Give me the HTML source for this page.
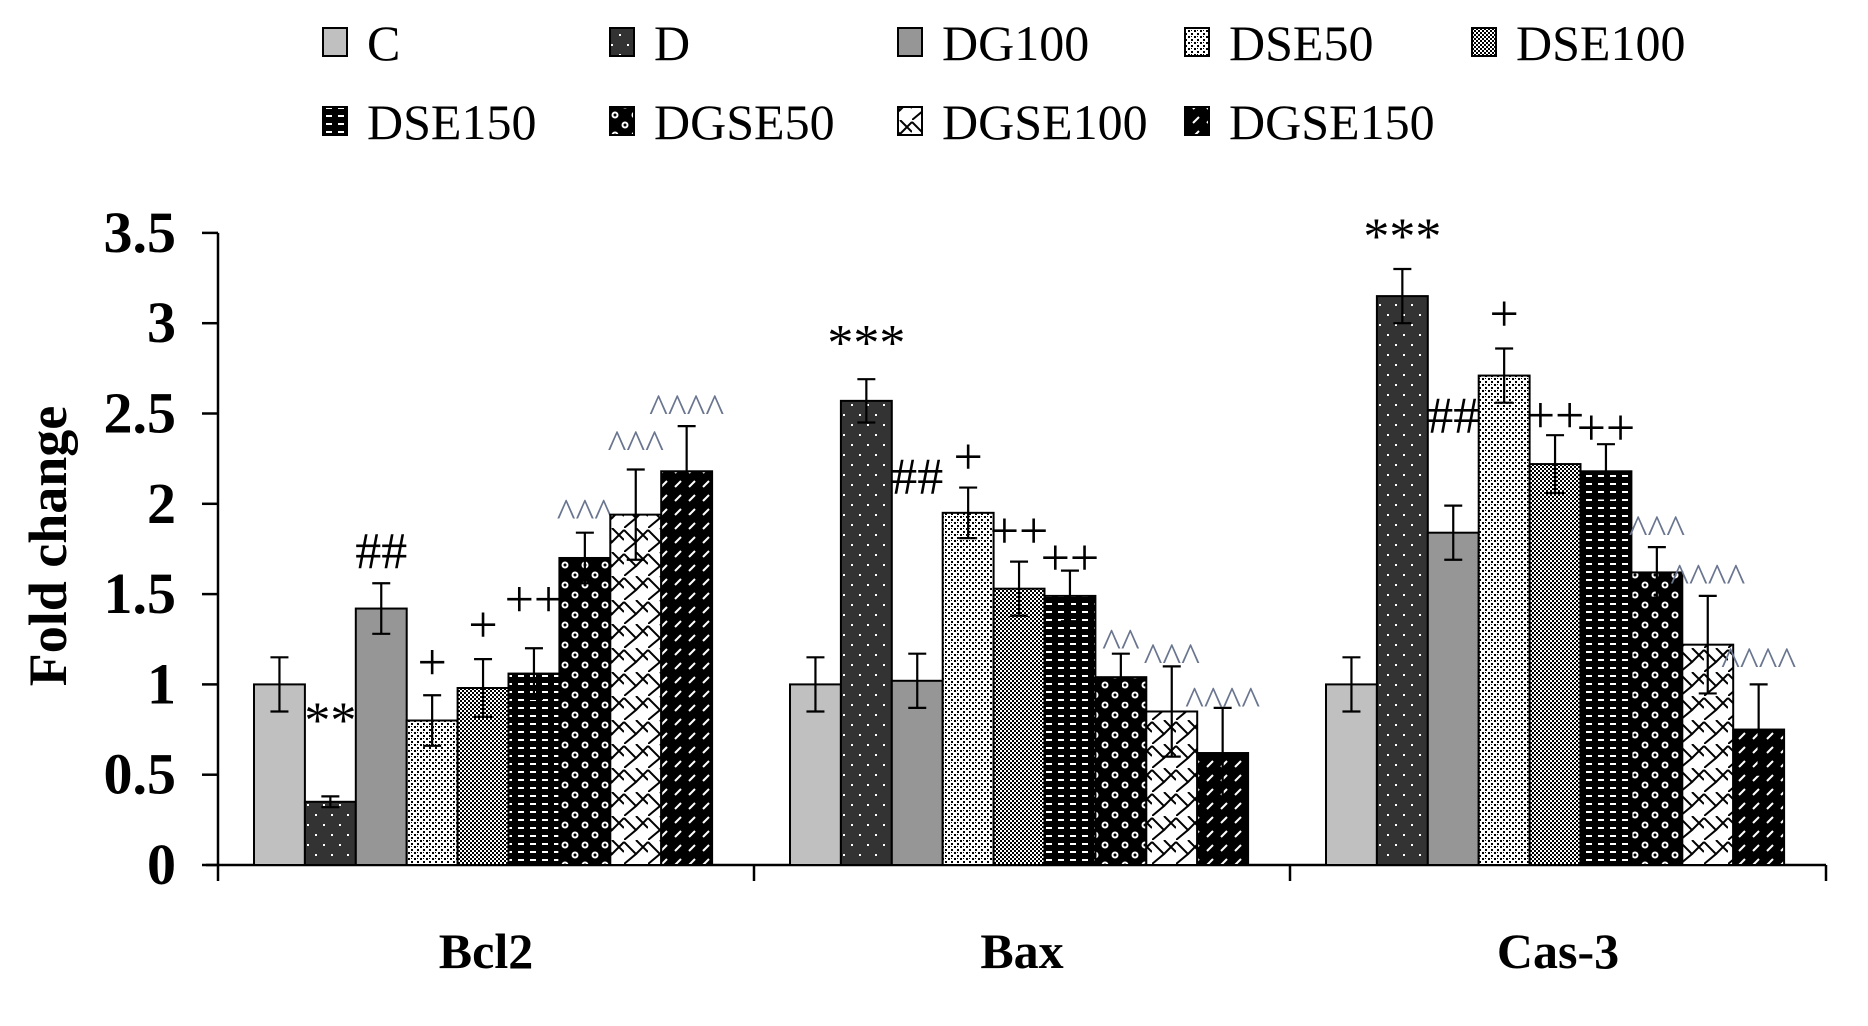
<!DOCTYPE html>
<html><head><meta charset="utf-8">
<style>
html,body{margin:0;padding:0;background:#fff;}
svg{display:block;}
text{font-family:"Liberation Serif",serif;}
</style></head>
<body>
<svg id="chart" width="1868" height="1026" viewBox="0 0 1868 1026" xmlns="http://www.w3.org/2000/svg">
<defs>
 <pattern id="p0" width="8" height="8" patternUnits="userSpaceOnUse"><rect width="8" height="8" fill="#c0c0c0"/></pattern>
 <pattern id="p1" width="16" height="20" patternUnits="userSpaceOnUse"><rect width="16" height="20" fill="#333"/><rect x="3" y="4" width="2" height="2" fill="#fff"/><rect x="11" y="14" width="2" height="2" fill="#fff"/></pattern>
 <pattern id="p2" width="8" height="8" patternUnits="userSpaceOnUse"><rect width="8" height="8" fill="#969696"/></pattern>
 <pattern id="p3" width="6" height="6" patternUnits="userSpaceOnUse"><rect width="6" height="6" fill="#fff"/><rect x="0" y="0" width="2" height="2" fill="#000"/><rect x="3" y="3" width="2" height="2" fill="#000"/><rect x="3" y="0" width="1" height="1" fill="#000"/></pattern>
 <pattern id="p4" width="4" height="4" patternUnits="userSpaceOnUse"><rect width="4" height="4" fill="#fff"/><rect x="0" y="0" width="2" height="2" fill="#000"/><rect x="2" y="2" width="2" height="2" fill="#000"/><rect x="1" y="1" width="1" height="1" fill="#000"/></pattern>
 <pattern id="p5" width="12" height="8" patternUnits="userSpaceOnUse"><rect width="12" height="8" fill="#000"/><rect x="2" y="3" width="6" height="2" fill="#fff"/></pattern>
 <pattern id="p6" width="20" height="20" patternUnits="userSpaceOnUse"><rect width="20" height="20" fill="#000"/><circle cx="5" cy="5" r="3.5" fill="#fff"/><circle cx="15" cy="15" r="3.5" fill="#fff"/><circle cx="5" cy="5" r="1.5" fill="#000"/><circle cx="15" cy="15" r="1.5" fill="#000"/></pattern>
 <pattern id="p7" width="24" height="24" patternUnits="userSpaceOnUse"><rect width="24" height="24" fill="#fff"/><path d="M0 2 L12 14 L0 24 M24 2 L12 14 M12 0 L24 12" stroke="#000" stroke-width="2" fill="none"/></pattern>
 <pattern id="p8" width="14" height="14" patternUnits="userSpaceOnUse"><rect width="14" height="14" fill="#000"/><path d="M3 11 L9 5" stroke="#fff" stroke-width="2"/></pattern>
</defs>
<g id="plot"></g>
</svg>
<script>
const categories = ["Bcl2","Bax","Cas-3"];
const seriesNames = ["C","D","DG100","DSE50","DSE100","DSE150","DGSE50","DGSE100","DGSE150"];
const bcl2Values = [1.0,0.35,1.42,0.80,0.98,1.06,1.70,1.94,2.18];
const baxValues = [1.0,2.57,1.02,1.95,1.53,1.49,1.04,0.85,0.62];
const cas3Values = [1.0,3.15,1.84,2.71,2.22,2.18,1.62,1.22,0.75];
const bcl2Errors = [0.15,0.03,0.14,0.14,0.16,0.14,0.14,0.25,0.25];
const baxErrors = [0.15,0.12,0.15,0.14,0.15,0.14,0.13,0.25,0.25];
const cas3Errors = [0.15,0.15,0.15,0.15,0.16,0.15,0.14,0.27,0.25];
const bcl2Marks = ["","**","##","+","+","++","^^^","^^^","^^^^"];
const baxMarks = ["","***","##","+","++","++","^^","^^^","^^^^"];
const cas3Marks = ["","***","##","+","++","++","^^^","^^^^","^^^^"];
const bcl2MarkY = [0,0.80,1.74,1.12,1.33,1.47,2.02,2.40,2.60];
const baxMarkY = [0,2.89,2.15,2.26,1.85,1.70,1.30,1.22,0.98];
const cas3MarkY = [0,3.48,2.49,3.05,2.49,2.42,1.93,1.66,1.20];
const yTicks = [0,0.5,1,1.5,2,2.5,3,3.5];
const yTickLabels = ["0","0.5","1","1.5","2","2.5","3","3.5"];

const NS="http://www.w3.org/2000/svg";
const g=document.getElementById('plot');
function mk(tag,attrs,parent){const e=document.createElementNS(NS,tag);for(const k in attrs)e.setAttribute(k,attrs[k]);(parent||g).appendChild(e);return e;}
const X0=218, X1=1826, Y0=865, PXU=180.6, CATW=(X1-X0)/categories.length, BARW=50.9, BOFF=36;
function yScale(v){return Y0-v*PXU;}
function barX(c,s){return X0+c*CATW+BOFF+s*BARW;}

let ax=mk('line',{x1:X0,y1:yScale(3.5),x2:X0,y2:Y0,stroke:'#000','stroke-width':2.5});


let xa=mk('line',{x1:X0-12,y1:Y0,x2:X1,y2:Y0,stroke:'#000','stroke-width':2.5});


yTicks.forEach((t,i)=>{
  const y=yScale(t);
  const tk=mk('line',{x1:X0-16,y1:y,x2:X0,y2:y,stroke:'#000','stroke-width':2.5});
  
  
  const tl=mk('text',{x:X0-42,y:y+19,'text-anchor':'end','font-size':58,'font-weight':'bold'});
  tl.textContent=yTickLabels[i];
  
  
});
for(let c=0;c<=categories.length;c++){
  const x=X0+c*CATW;
  const tk=mk('line',{x1:x,y1:Y0,x2:x,y2:Y0+16,stroke:'#000','stroke-width':2.5});
  
  
}
categories.forEach((cat,c)=>{
  const t=mk('text',{x:X0+c*CATW+CATW/2,y:968,'text-anchor':'middle','font-size':50,'font-weight':'bold'});
  t.textContent=cat;
  
  
});
const yt=mk('text',{x:0,y:0,'text-anchor':'middle','font-size':54,'font-weight':'bold',transform:'translate(66,546) rotate(-90)'});
yt.textContent='Fold change';



const vals=[bcl2Values,baxValues,cas3Values], errs=[bcl2Errors,baxErrors,cas3Errors], marks=[bcl2Marks,baxMarks,cas3Marks], markY=[bcl2MarkY,baxMarkY,cas3MarkY];
categories.forEach((cat,c)=>{
  seriesNames.forEach((s,i)=>{
    const v=vals[c][i], e=errs[c][i], x=barX(c,i), cx=x+BARW/2;
    const r=mk('rect',{x:x,y:yScale(v),width:BARW,height:Y0-yScale(v),fill:'url(#p'+i+')',stroke:'#000','stroke-width':2});
    
    
    const eb=mk('path',{d:`M${cx} ${yScale(v-e)}V${yScale(v+e)}M${cx-9} ${yScale(v+e)}H${cx+9}M${cx-9} ${yScale(v-e)}H${cx+9}`,stroke:'#000','stroke-width':2.2,fill:'none'});
    
    
    const m=marks[c][i];
    if(m){
      const caret=m[0]==='^';
      const t=mk('text',{x:cx,y:yScale(markY[c][i])+(caret?26:17),'text-anchor':'middle','font-size':caret?40:52,fill:caret?'#6a7590':'#000'});
      t.textContent=m;
      
      
    }
  });
});

const legX=[323,610,898,1185,1472], legY=[42,121];
seriesNames.forEach((s,i)=>{
  const row=Math.floor(i/5), col=i%5;
  const lg=mk('g',{});
  
  
  mk('rect',{x:legX[col],y:legY[row]-14,width:24,height:28,fill:'url(#p'+i+')',stroke:'#000','stroke-width':2},lg);
  const t=mk('text',{x:legX[col]+44,y:legY[row]+18,'font-size':50},lg);
  t.textContent=s;
});
</script>
</body></html>
